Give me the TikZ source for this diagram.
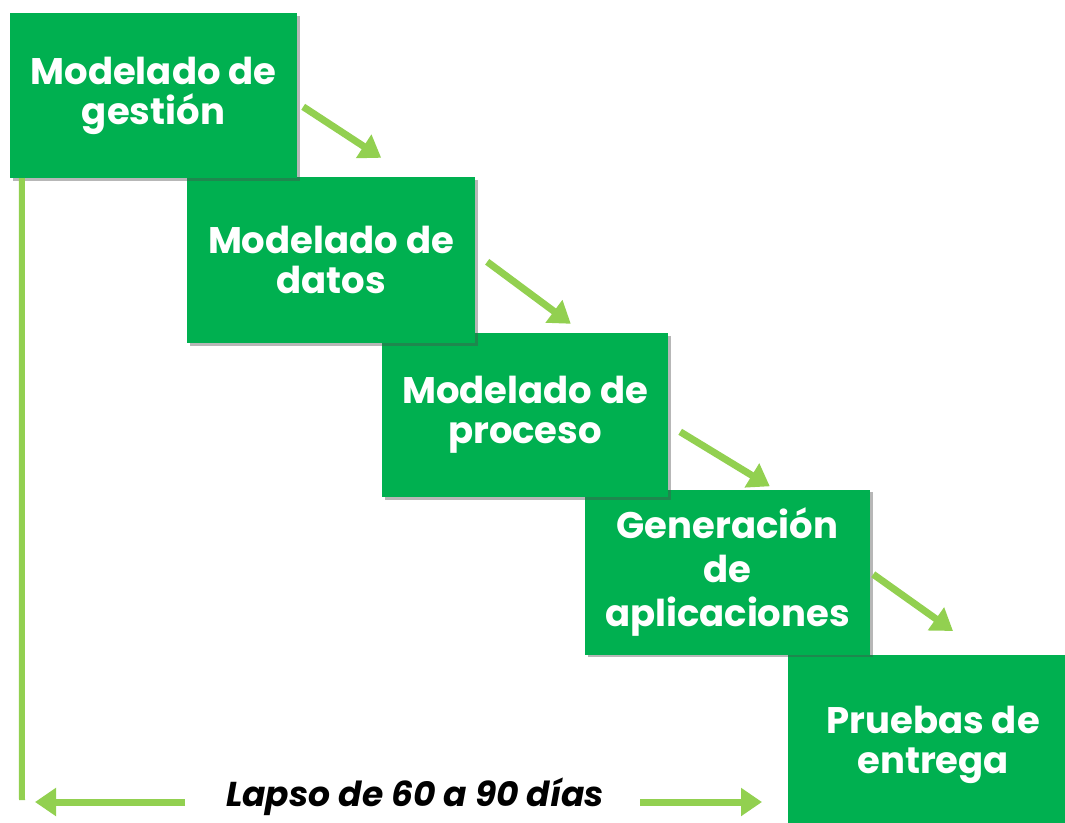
\documentclass[tikz,border=0pt]{standalone}
\usepackage{fontspec}
\setmainfont{Poppins}
\usetikzlibrary{arrows.meta,shadows,calc}
\definecolor{boxgreen}{HTML}{00B050}
\definecolor{arrgreen}{HTML}{92D050}
\begin{document}
\begin{tikzpicture}[x=1pt,y=-1pt,
  stage/.style={fill=boxgreen, draw=none, text=white, inner sep=0pt,
    font=\fontsize{37}{40}\selectfont\bfseries, align=center,
    drop shadow={shadow xshift=2.5pt, shadow yshift=-2.5pt, fill=black!70, opacity=0.4}},
  flow/.style={draw=arrgreen, line width=7pt, -{Triangle[width=27pt,length=21pt]}},
  vline/.style={draw=arrgreen, line width=6pt}]
\useasboundingbox[fill=white] (0,0) rectangle (1065,822);

\node[stage, minimum width=290pt, minimum height=180pt, anchor=north west] (b5) at (788,655) {Pruebas de\\entrega};
\node[stage, minimum width=285pt, minimum height=165pt, font=\fontsize{37}{44}\selectfont\bfseries] (b4) at (727.5,572) {Generación\\de\\aplicaciones};
\node[stage, minimum width=286pt, minimum height=164pt] (b3) at (525,415) {Modelado de\\proceso};
\node[stage, minimum width=288pt, minimum height=166pt] (b2) at (331,260) {Modelado de\\datos};
\node[stage, minimum width=287pt, minimum height=165pt] (b1) at (153.5,95.5) {Modelado de\\gestión};

\coordinate (a1s) at ($(b1.north east)+(6,94)$);
\coordinate (a1t) at ($(b2.north east)+(-94,-19)$);
\coordinate (a2s) at ($(b2.north east)+(12,85)$);
\coordinate (a2t) at ($(b3.north west)+(189,-9)$);
\coordinate (a3s) at ($(b3.north east)+(12,99)$);
\coordinate (a3t) at ($(b4.north west)+(185,-3)$);
\coordinate (a4s) at ($(b4.north east)+(3,85)$);
\coordinate (a4t) at ($(b5.north west)+(165,-24)$);

\draw[flow] (a1s) -- (a1t);
\draw[flow] (a2s) -- (a2t);
\draw[flow] (a3s) -- (a3t);
\draw[flow] (a4s) -- (a4t);

\coordinate (vtop) at ($(b1.south west)+(12,0)$);
\coordinate (vbot) at (22,800);
\draw[vline] (vtop) -- (vbot);

\node[font=\fontsize{34.5}{40}\selectfont\bfseries\itshape, anchor=base, inner sep=0pt] (lbl) at (415,806) {Lapso de 60 a 90 días};
\coordinate (la) at (185,802);
\coordinate (lt) at (35,802);
\coordinate (ra) at (640,802);
\coordinate (rt) at (762,802);
\draw[flow] (la) -- (lt);
\draw[flow] (ra) -- (rt);
\end{tikzpicture}
\end{document}
